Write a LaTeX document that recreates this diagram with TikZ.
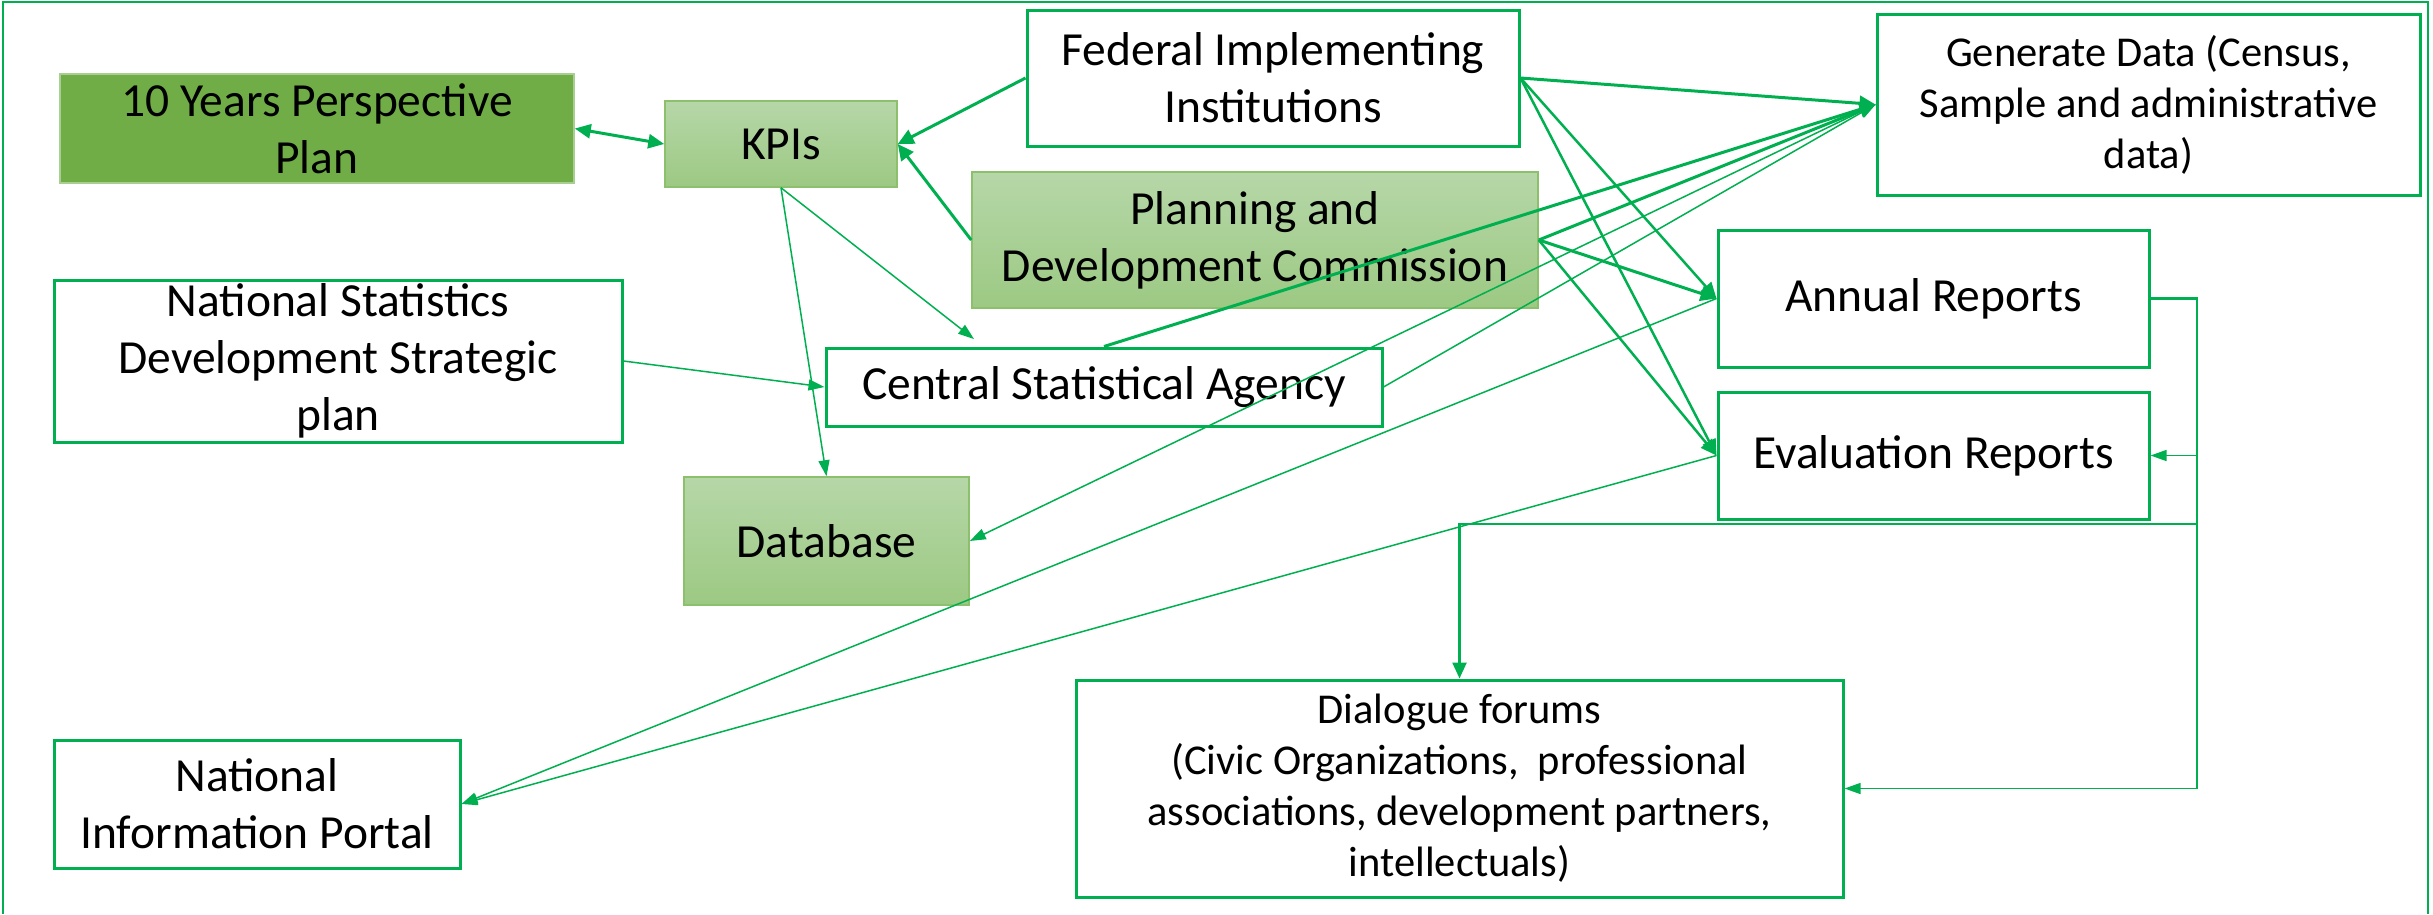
\documentclass[tikz,border=0pt]{standalone}
\usepackage{fontspec}
\setmainfont{Carlito}
\usetikzlibrary{arrows.meta}
\definecolor{linegreen}{HTML}{00B050}
\definecolor{plangreen}{HTML}{70AD47}
\definecolor{softtop}{HTML}{B6D7A8}
\definecolor{softbot}{HTML}{9CC983}
\definecolor{softrim}{HTML}{8DC06C}
\newcommand{\bigtxt}{\fontsize{47.5}{57}\selectfont}
\newcommand{\smalltxt}{\fontsize{42.5}{51}\selectfont}

\begin{document}
\begin{tikzpicture}[x=1pt,y=-1pt,
  fatline/.style={draw=linegreen,line width=3pt,-{Triangle[length=16pt,width=15pt]}},
  midline/.style={draw=linegreen,line width=2.5pt,-{Triangle[length=16pt,width=14pt]}},
  slimline/.style={draw=linegreen,line width=1.5pt,-{Triangle[length=16pt,width=11pt]}},
  twohead/.style={arrows={Triangle[length=16pt,width=14pt]-Triangle[length=16pt,width=14pt]}}]
   \useasboundingbox (0,0) rectangle (2433,914);
   \draw[linegreen,line width=2.5pt] (3,914) -- (3,2) -- (2428,2) -- (2428,914);
   \begin{scope}[every node/.style={draw=linegreen,line width=3pt,fill=white,inner sep=0pt,align=center,font=\bigtxt}]
    \node[minimum width=492pt,minimum height=136pt] (fii) at (1273,78) {Federal Implementing\\Institutions};
    \node[minimum width=543pt,minimum height=181pt,font=\smalltxt] (gen) at (2148.5,104.5) {Generate Data (Census,\\Sample and administrative\\data)};
    \node[minimum width=568pt,minimum height=162pt] (nsds) at (338,361) {National Statistics\\Development Strategic\\plan};
    \node[minimum width=556pt,minimum height=78pt] (csa) at (1104,387) {Central Statistical Agency};
    \node[minimum width=431pt,minimum height=137pt] (annual) at (1933.5,298.5) {Annual Reports};
    \node[minimum width=431pt,minimum height=127pt] (eval) at (1933.5,455.5) {Evaluation Reports};
    \node[minimum width=406pt,minimum height=128pt] (nip) at (257,804) {National\\Information Portal};
    \node[minimum width=767pt,minimum height=217pt,font=\smalltxt] (dlg) at (1459.5,788.5) {Dialogue forums\\(Civic Organizations,\ \ professional\\associations, development partners,\\intellectuals)};
   \end{scope}
   \begin{scope}[every node/.style={draw=softrim,line width=1.5pt,top color=softtop,bottom color=softbot,inner sep=0pt,align=center,font=\bigtxt}]
    \node[minimum width=514pt,minimum height=109pt,fill=plangreen,top color=plangreen,bottom color=plangreen,draw=plangreen!60!white] (tenyr) at (317,128.5) {10 Years Perspective\\Plan};
    \node[minimum width=232pt,minimum height=86pt] (kpi) at (781,144) {KPIs};
    \node[minimum width=566pt,minimum height=136pt] (pdc) at (1255,240) {Planning and\\Development Commission};
    \node[minimum width=285pt,minimum height=128pt] (db) at (826.5,541) {Database};
   \end{scope}
   \draw (tenyr.east) edge[fatline,twohead] (kpi.west);
   \draw (fii.west) edge[fatline] (kpi.east);
   \draw (pdc.west) edge[fatline] (kpi.east);
   \draw (kpi.south) edge[slimline,shorten >=12pt] ([xshift=159pt]csa.north west);
   \draw (kpi.south) edge[slimline] (db.north);
   \draw (nsds.east) edge[slimline] (csa.west);
   \draw (fii.east) edge[fatline] (gen.west);
   \draw (fii.east) edge[midline] (annual.west);
   \draw (fii.east) edge[midline] (eval.west);
   \draw (pdc.east) edge[fatline] (gen.west);
   \draw (pdc.east) edge[fatline] (annual.west);
   \draw (pdc.east) edge[midline] (eval.west);
   \draw (csa.north) edge[fatline] (gen.west);
   \draw (csa.east) edge[slimline] (gen.west);
   \draw (gen.west) edge[slimline] (db.east);
   \draw (annual.west) edge[slimline] (nip.east);
   \draw (eval.west) edge[slimline] (nip.east);
   \coordinate (split) at (2197,524);
   \draw[midline] (annual.east) -| (split) -| (dlg.north);
   \draw[slimline] (split) |- (dlg.east);
   \draw[slimline] (eval.east -| split) -- (eval.east);
\end{tikzpicture}
\end{document}
